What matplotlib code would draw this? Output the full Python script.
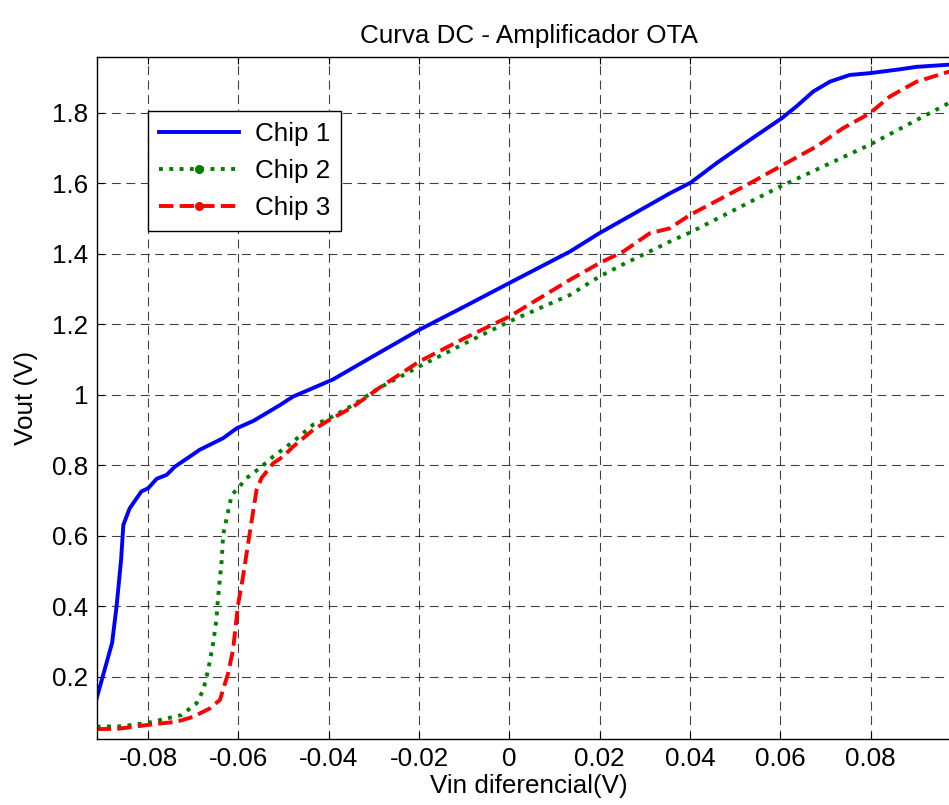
import matplotlib
matplotlib.use("Agg")
import matplotlib.pyplot as plt
from matplotlib.lines import Line2D
from matplotlib.legend_handler import HandlerTuple
from matplotlib.ticker import FuncFormatter

# ---- data ----
chip1_v = [-0.0914, -0.0880, -0.0870, -0.0860, -0.0855, -0.0841, -0.0815, -0.0800,
           -0.0781, -0.0759, -0.0741, -0.0711, -0.0686, -0.0634, -0.0604, -0.0567,
           -0.0538, -0.0508, -0.0479, -0.0435, -0.0390, -0.0309, -0.0200, -0.0100,
           0.0000, 0.0134, 0.0199, 0.0311, 0.0355, 0.0402, 0.0459, 0.0533, 0.0603,
           0.0636, 0.0673, 0.0710, 0.0754, 0.0798, 0.0865, 0.0902, 0.0973, 0.1000]
chip1_out = [0.140, 0.296, 0.400, 0.532, 0.631, 0.678, 0.726, 0.735,
             0.762, 0.773, 0.796, 0.822, 0.844, 0.877, 0.905, 0.926,
             0.948, 0.971, 0.995, 1.019, 1.044, 1.104, 1.184, 1.250,
             1.317, 1.406, 1.458, 1.539, 1.571, 1.602, 1.657, 1.723, 1.784,
             1.818, 1.860, 1.888, 1.907, 1.912, 1.923, 1.930, 1.936, 1.937]

chip2_v = [-0.0914, -0.0860, -0.0800, -0.0726, -0.0693, -0.0678, -0.0667, -0.0656,
           -0.0649, -0.0645, -0.0637, -0.0634, -0.0615, -0.0601, -0.0582, -0.0553,
           -0.0523, -0.0479, -0.0435, -0.0405, -0.0346, -0.0289, -0.0200, -0.0100,
           0.0000, 0.0134, 0.0199, 0.0252, 0.0363, 0.0400, 0.0599, 0.0798, 0.0973, 0.1000]
chip2_out = [0.059, 0.060, 0.070, 0.092, 0.125, 0.163, 0.220, 0.296,
             0.362, 0.428, 0.532, 0.603, 0.716, 0.735, 0.764, 0.792,
             0.825, 0.867, 0.915, 0.929, 0.971, 1.019, 1.080, 1.145,
             1.208, 1.283, 1.335, 1.370, 1.439, 1.460, 1.590, 1.709, 1.827, 1.845]

chip3_v = [-0.0914, -0.0866, -0.0800, -0.0737, -0.0700, -0.0663, -0.0641, -0.0623,
           -0.0612, -0.0601, -0.0590, -0.0575, -0.0560, -0.0549, -0.0523, -0.0501,
           -0.0479, -0.0435, -0.0405, -0.0346, -0.0289, -0.0200, -0.0100, 0.0000,
           0.0134, 0.0199, 0.0252, 0.0311, 0.0355, 0.0400, 0.0533, 0.0599, 0.0680,
           0.0739, 0.0798, 0.0843, 0.0902, 0.0973, 0.1000]
chip3_out = [0.052, 0.053, 0.064, 0.073, 0.087, 0.111, 0.135, 0.210,
             0.277, 0.404, 0.484, 0.608, 0.730, 0.764, 0.806, 0.825,
             0.853, 0.900, 0.924, 0.966, 1.019, 1.094, 1.160, 1.222,
             1.326, 1.373, 1.406, 1.458, 1.472, 1.510, 1.600, 1.647, 1.704,
             1.756, 1.798, 1.846, 1.888, 1.916, 1.925]

labels = ["Chip 1", "Chip 2", "Chip 3"]
x_ticks = [-0.08, -0.06, -0.04, -0.02, 0, 0.02, 0.04, 0.06, 0.08]
y_ticks = [0.2, 0.4, 0.6, 0.8, 1.0, 1.2, 1.4, 1.6, 1.8]

# ---- style ----
FS = 18.7
plt.rcParams['font.family'] = ['Liberation Sans', 'DejaVu Sans']
plt.rcParams['font.size'] = FS
plt.rcParams['axes.unicode_minus'] = False

fig = plt.figure(figsize=(9.49, 8.05), dpi=100)
ax = fig.add_axes([0.1019, 0.0820, 0.9106, 0.8468])

lw = 2.8
ax.plot(chip1_v, chip1_out, color='#0000ff', lw=lw, linestyle='-')
ax.plot(chip2_v, chip2_out, color='#008000', lw=lw, linestyle=':')
ax.plot(chip3_v, chip3_out, color='#ff0000', lw=lw, linestyle='--')

ax.set_xlim(-0.0914, 0.1)
ax.set_ylim(0.024, 1.957)
ax.set_xticks(x_ticks)
ax.set_yticks(y_ticks)
ax.xaxis.set_major_formatter(FuncFormatter(lambda v, p: '%g' % round(v, 4)))
ax.yaxis.set_major_formatter(FuncFormatter(lambda v, p: '%g' % round(v, 4)))

ax.grid(True, color='black', alpha=0.75, lw=0.8, linestyle=(0, (8, 5)))
ax.tick_params(direction='in', length=5, width=0.8, top=True, right=True,
               labelsize=FS)
ax.tick_params(axis='x', pad=6)
ax.tick_params(axis='y', pad=6)
for s in ax.spines.values():
    s.set_linewidth(1.0)
    s.set_color('black')

ax.set_title("Curva DC - Amplificador OTA", fontsize=FS, pad=10)
ax.set_xlabel("Vin diferencial(V)", fontsize=FS, labelpad=2)
ax.set_ylabel("Vout (V)", fontsize=FS, labelpad=10)

h1 = Line2D([], [], color='#0000ff', lw=lw, linestyle='-')
h2l = Line2D([], [], color='#008000', lw=lw, linestyle=':')
h2m = Line2D([], [], color='#008000', linestyle='none', marker='o', markersize=5.5)
h3l = Line2D([], [], color='#ff0000', lw=lw, linestyle='--')
h3m = Line2D([], [], color='#ff0000', linestyle='none', marker='o', markersize=5.5)
handles = [h1, (h2l, h2m), (h3l, h3m)]
leg = ax.legend(handles, labels, loc='upper left', bbox_to_anchor=(0.0594, 0.921),
                borderaxespad=0, handlelength=3.1, handletextpad=0.6,
                labelspacing=0.5, borderpad=0.42, fancybox=False, framealpha=1,
                edgecolor='black', fontsize=FS, numpoints=1,
                handler_map={tuple: HandlerTuple(ndivide=1, pad=0)})
leg.get_frame().set_linewidth(1.0)

fig.savefig("out.png", dpi=100)
